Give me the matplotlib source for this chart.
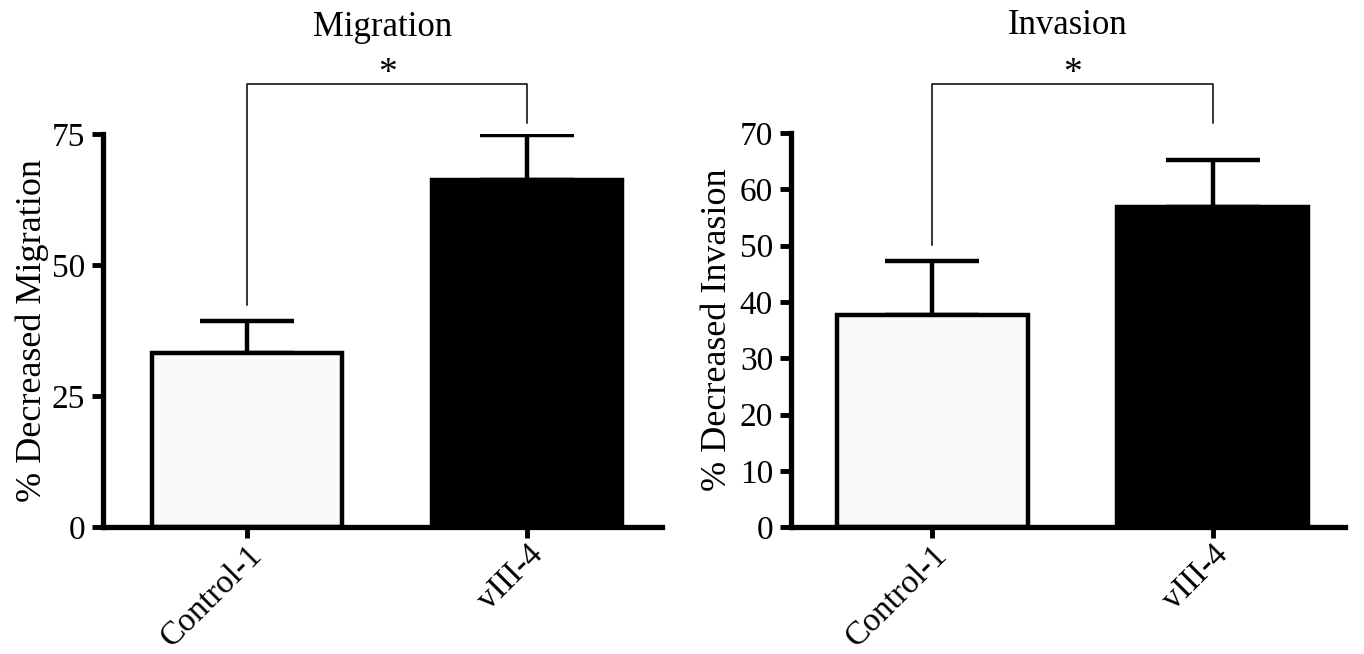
import matplotlib.pyplot as plt

plt.rcParams['font.family'] = ['Liberation Serif', 'DejaVu Serif']

groups = ['Control-1', 'vIII-4']

migration = [33.2, 66.2]
migration_err = [6.1, 8.6]

invasion = [37.7, 56.8]
invasion_err = [9.6, 8.4]

fig = plt.figure(figsize=(13.64, 6.54), dpi=100)

ax1 = fig.add_axes([0.0755, 0.194, 0.41, 0.601])
ax2 = fig.add_axes([0.58, 0.194, 0.406, 0.6025])


def draw_panel(ax, vals, errs, title, ylabel, ymax, yticks, xlim, bracket, star_y, lpad):
    x = range(len(groups))
    ax.bar(x, vals, width=0.68, color=['#fafafa', 'black'],
           edgecolor='black', linewidth=3.2, zorder=2)
    ax.errorbar(x, vals, yerr=[[0] * len(errs), errs], fmt='none',
                ecolor='black', elinewidth=3.2, capsize=34, capthick=3.2, zorder=1)
    ax.set_xlim(*xlim)
    ax.set_ylim(0, ymax)
    ax.set_yticks(yticks)
    ax.set_xticks(list(x))
    ax.set_xticklabels(groups, rotation=45, ha='right', rotation_mode='anchor')
    ax.tick_params(axis='both', labelsize=24, width=3.5, length=8, direction='out')
    ax.tick_params(axis='x', pad=1)
    ax.tick_params(axis='y', pad=5)
    for s in ['top', 'right']:
        ax.spines[s].set_visible(False)
    for s in ['left', 'bottom']:
        ax.spines[s].set_linewidth(3.8)
    ax.set_ylabel(ylabel, fontsize=26, labelpad=lpad)
    ax.text(0.5, 1.272, title, transform=ax.transAxes, ha='center', va='center', fontsize=25)

    # significance bracket
    lo_left, top, lo_right = bracket
    ax.plot([0, 0, 1, 1], [lo_left, top, top, lo_right], color='black',
            linewidth=1.1, clip_on=False)
    ax.text(0.5, star_y, '*', ha='center', va='center', fontsize=27, clip_on=False)


draw_panel(ax1, migration, migration_err, 'Migration', '% Decreased Migration',
           75, [0, 25, 50, 75], (-0.514, 1.482), (42.4, 84.5, 77.1), 86.5, 2)
draw_panel(ax2, invasion, invasion_err, 'Invasion', '% Decreased Invasion',
           70, [0, 10, 20, 30, 40, 50, 60, 70], (-0.502, 1.47), (50.1, 78.7, 71.8), 80.5, 4)

fig.savefig('out.png', dpi=100)
